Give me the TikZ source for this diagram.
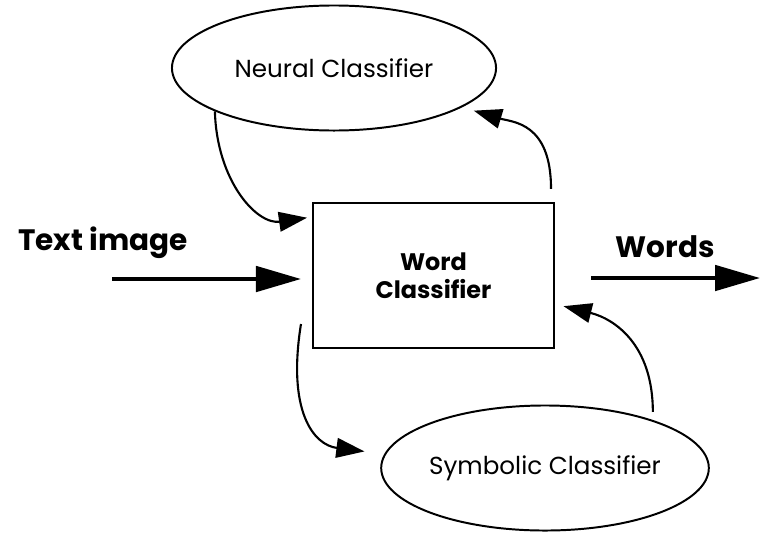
\documentclass[tikz,border=0pt]{standalone}
\usepackage{fontspec}
\setmainfont{Poppins}
\usetikzlibrary{arrows.meta,shapes.geometric}

\begin{document}
\begin{tikzpicture}[x=0.025cm, y=-0.025cm,
    classifier/.style={draw, ellipse, line width=1.4pt, inner sep=0pt,
      minimum width=8.1cm, minimum height=3.125cm, font=\fontsize{17.5}{20}\selectfont},
    wordbox/.style={draw, rectangle, line width=1.4pt, inner sep=0pt, align=center,
      minimum width=6.025cm, minimum height=3.625cm, font=\bfseries\fontsize{17}{20}\selectfont},
    flowtext/.style={font=\bfseries\fontsize{21}{24}\selectfont},
    feedback/.style={line width=1.5pt, -{Triangle[length=20pt, width=14pt]}},
    flow/.style={line width=2.8pt, -{Triangle[length=32pt, width=18pt]}}]
  \useasboundingbox (0,0) rectangle (760,533);

  \node[classifier] (neural) at (334,68) {Neural Classifier};
  \node[wordbox] (word) at (433.5,275.5) {Word\\Classifier};
  \node[classifier] (symbolic) at (545,468) {Symbolic Classifier};

  \node[flowtext] (textimg) at (103,243) {Text image};
  \node[flowtext] (words) at (665,247) {Words};
  \coordinate (src) at (112,279);
  \coordinate (sink) at (760,278);

  % main flow through the word classifier
  \draw[flow, shorten >=0.275cm] (src) -- (src -| word.west);
  \draw[flow, shorten <=0.9cm] (sink -| word.east) -- (sink);

  % feedback loops with the two classifiers
  \draw[feedback, shorten >=0.125cm]
    (neural.200) .. controls +(2,70) and +(-55,8) .. ([yshift=-0.375cm]word.north west);
  \draw[feedback, shorten <=0.33cm, shorten >=0.3cm]
    ([xshift=-0.1cm]word.north east) .. controls +(0,-80) and +(50,15) .. (neural.343);
  \draw[feedback, shorten >=0.5cm]
    ([xshift=-0.275cm, yshift=0.625cm]word.south west) .. controls +(-14,87) and +(-71,-9) .. (symbolic.175);
  \draw[feedback, shorten <=0.2cm, shorten >=0.22cm]
    (symbolic.24) .. controls +(0,-75) and +(60,15) .. ([yshift=-2.55cm]word.north east);
\end{tikzpicture}
\end{document}
